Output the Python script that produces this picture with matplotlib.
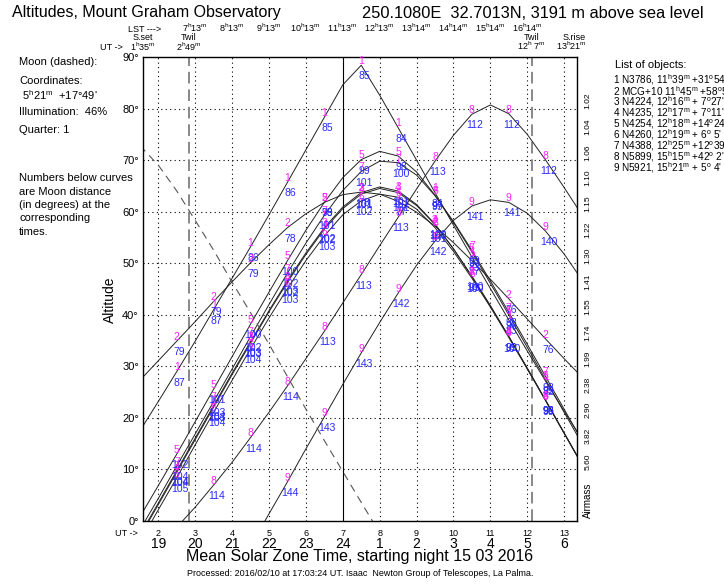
import matplotlib
matplotlib.use('Agg')
import matplotlib.pyplot as plt

plt.rcParams['font.family'] = ['Liberation Sans', 'DejaVu Sans']
plt.rcParams['mathtext.fontset'] = 'custom'
plt.rcParams['mathtext.rm'] = 'Liberation Sans'

W, H = 724, 585

# UT time grid (hours), night of 15 03 2016
ut = [1.5, 2.0, 2.5, 3.0, 3.5, 4.0, 4.5, 5.0, 5.5, 6.0, 6.5, 7.0, 7.5,
      8.0, 8.5, 9.0, 9.5, 10.0, 10.5, 11.0, 11.5, 12.0, 12.5, 13.0, 13.5]

# altitudes (deg)
alt_1 = [17.5, 23.2, 29.0, 34.9, 41.0, 47.1, 53.2, 59.4, 65.7, 72.0, 78.3, 84.6, 88.4,
         82.6, 76.3, 70.0, 63.7, 57.4, 51.2, 45.1, 39.0, 33.0, 27.1, 21.3, 15.7]
alt_2 = [27.3, 31.1, 34.9, 38.7, 42.6, 46.4, 50.1, 53.6, 56.9, 59.6, 61.8, 63.3, 63.8,
         63.4, 62.0, 59.9, 57.2, 54.0, 50.5, 46.9, 43.1, 39.2, 35.3, 31.5, 27.8]
alt_3 = [-2.7, 3.5, 9.8, 16.1, 22.4, 28.7, 34.8, 40.8, 46.6, 52.0, 56.9, 60.9, 63.7,
         64.8, 64.0, 61.4, 57.6, 52.8, 47.5, 41.8, 35.8, 29.7, 23.4, 17.1, 10.8]
alt_4 = [-3.0, 3.2, 9.5, 15.8, 22.1, 28.4, 34.5, 40.6, 46.3, 51.7, 56.6, 60.6, 63.4,
         64.5, 63.7, 61.2, 57.5, 52.8, 47.4, 41.7, 35.8, 29.6, 23.4, 17.1, 10.8]
alt_5 = [0.8, 6.9, 13.0, 19.3, 25.6, 31.9, 38.2, 44.4, 50.5, 56.4, 61.8, 66.6, 70.1,
         71.7, 70.8, 67.7, 63.2, 57.9, 52.2, 46.1, 40.0, 33.7, 27.4, 21.1, 14.8]
alt_6 = [-4.1, 2.2, 8.4, 14.8, 21.1, 27.3, 33.4, 39.4, 45.1, 50.5, 55.3, 59.4, 62.1,
         63.4, 62.8, 60.5, 56.9, 52.3, 47.1, 41.5, 35.6, 29.5, 23.3, 17.0, 10.7]
alt_7 = [-1.7, 4.4, 10.7, 16.9, 23.2, 29.5, 35.8, 42.0, 48.1, 53.9, 59.3, 64.1, 67.8,
         69.8, 69.5, 67.1, 63.1, 58.1, 52.5, 46.6, 40.5, 34.3, 28.0, 21.7, 15.4]
alt_8 = [-7.8, -4.7, -1.2, 2.7, 7.0, 11.4, 16.2, 21.1, 26.2, 31.5, 36.8, 42.3, 47.8,
         53.4, 58.9, 64.4, 69.8, 74.8, 78.9, 80.7, 79.0, 75.0, 70.0, 64.7, 59.2]
alt_9 = [-25.0, -22.0, -19.0, -15.0, -13.0, -11.1, -4.9, 1.4, 7.6, 14.0, 20.2, 26.5, 32.6,
         38.5, 44.2, 49.6, 54.3, 58.3, 61.1, 62.3, 61.8, 59.7, 56.2, 51.8, 46.6]

ut_moon = [1.5, 2.0, 2.5, 3.0, 3.5, 4.0, 4.5, 5.0, 5.5, 6.0, 6.5, 7.0, 7.5, 8.0]
alt_moon = [72.8, 69.0, 64.0, 58.3, 52.5, 46.3, 40.4, 34.3, 28.0, 21.7, 15.6, 9.6, 3.6, -2.3]

# moon distances printed under the curves, at these UT times
label_times = [2.5, 3.5, 4.5, 5.5, 6.5, 7.5, 8.5, 9.5, 10.5, 11.5, 12.5]
dist_1 = [87, 87, 86, 86, 85, 85, 84, 84, 83, 83, 82]
dist_2 = [79, 79, 79, 78, 78, 78, 77, 77, 77, 76, 76]
dist_3 = [104, 104, 103, 103, 102, 101, 101, 100, 100, 99, 98]
dist_4 = [104, 103, 103, 102, 102, 101, 101, 100, 99, 99, 98]
dist_5 = [102, 101, 100, 100, 99, 99, 98, 97, 97, 96, 95]
dist_6 = [105, 104, 104, 103, 103, 102, 101, 101, 100, 100, 99]
dist_7 = [104, 103, 102, 102, 101, 101, 100, 99, 99, 98, 98]
dist_8 = [None, 114, 114, 114, 113, 113, 113, 113, 112, 112, 112]
dist_9 = [None, None, None, 144, 143, 143, 142, 142, 141, 141, 140]

ut_ticks = [2, 3, 4, 5, 6, 7, 8, 9, 10, 11, 12, 13]
local_ticks = [19, 20, 21, 22, 23, 24, 1, 2, 3, 4, 5, 6]
lst_ut = [3, 4, 5, 6, 7, 8, 9, 10, 11, 12]
lst_labels = [('7', '13'), ('8', '13'), ('9', '13'), ('10', '13'), ('11', '13'),
              ('12', '13'), ('13', '14'), ('14', '14'), ('15', '14'), ('16', '14')]
airmass_alt = [80, 75, 70, 65, 60, 55, 50, 45, 40, 35, 30, 25, 20, 15, 10]
airmass_labels = ['1.02', '1.04', '1.06', '1.10', '1.15', '1.22', '1.30', '1.41',
                  '1.55', '1.74', '1.99', '2.38', '2.90', '3.82', '5.60']

objects = ['1 N3786, 11$^{\\mathrm{h}}$39$^{\\mathrm{m}}$ +31$^{\\mathrm{o}}$54\'',
           '2 MCG+10 11$^{\\mathrm{h}}$45$^{\\mathrm{m}}$ +58$^{\\mathrm{o}}$59\'',
           '3 N4224, 12$^{\\mathrm{h}}$16$^{\\mathrm{m}}$ + 7$^{\\mathrm{o}}$27\'',
           '4 N4235, 12$^{\\mathrm{h}}$17$^{\\mathrm{m}}$ + 7$^{\\mathrm{o}}$11\'',
           '5 N4254, 12$^{\\mathrm{h}}$18$^{\\mathrm{m}}$ +14$^{\\mathrm{o}}$24\'',
           '6 N4260, 12$^{\\mathrm{h}}$19$^{\\mathrm{m}}$ + 6$^{\\mathrm{o}}$ 5\'',
           '7 N4388, 12$^{\\mathrm{h}}$25$^{\\mathrm{m}}$ +12$^{\\mathrm{o}}$39\'',
           '8 N5899, 15$^{\\mathrm{h}}$15$^{\\mathrm{m}}$ +42$^{\\mathrm{o}}$ 2\'',
           '9 N5921, 15$^{\\mathrm{h}}$21$^{\\mathrm{m}}$ + 5$^{\\mathrm{o}}$ 4\'']

sunset, twil_eve, twil_morn, sunrise = 1.583, 2.817, 12.117, 13.35


def fx(x):
    return x / W


def fy(y):
    return 1 - y / H


def hm(h, m):
    return h + '$^{\\mathrm{h}}$' + m + '$^{\\mathrm{m}}$'


fig = plt.figure(figsize=(W / 100, H / 100), dpi=100)
ax = fig.add_axes([fx(143), fy(521), fx(577 - 143), (521 - 57) / H])
ax.set_xlim(sunset, sunrise)
ax.set_ylim(0, 90)

for h in ut_ticks:
    if h == 7:
        ax.axvline(h, color='k', lw=0.8)
    else:
        ax.axvline(h, color='k', lw=0.8, ls=(0, (1, 3)))
for a in range(10, 90, 10):
    ax.axhline(a, color='k', lw=0.8, ls=(0, (1, 3)))
for t in (twil_eve, twil_morn):
    ax.axvline(t, color='#888888', lw=1.4, ls=(0, (6, 3)))

alts = [alt_1, alt_2, alt_3, alt_4, alt_5, alt_6, alt_7, alt_8, alt_9]
dists = [dist_1, dist_2, dist_3, dist_4, dist_5, dist_6, dist_7, dist_8, dist_9]
for a in alts:
    ax.plot(ut, a, color='#222222', lw=0.7)
ax.plot(ut_moon, alt_moon, color='#555555', lw=0.8, ls=(0, (7, 5)))

for num, (a, d) in enumerate(zip(alts, dists), start=1):
    for t, dd in zip(label_times, d):
        if dd is None:
            continue
        y = a[ut.index(t)]
        ax.annotate(str(num), (t, y), xytext=(0, 3), textcoords='offset points',
                    ha='center', va='center', fontsize=7.5, color='#ff22ff')
        ax.annotate(str(dd), (t, y), xytext=(2, -8), textcoords='offset points',
                    ha='center', va='center', fontsize=7.5, color='#2a2aff')

ax.set_xticks([])
ax.set_yticks(range(0, 91, 10))
ax.set_yticklabels([f'{v}°' for v in range(0, 91, 10)], fontsize=8)
ax.tick_params(axis='y', length=0, pad=3)
for s in ax.spines.values():
    s.set_linewidth(1.0)

xt = ax.get_xaxis_transform()
yt = ax.get_yaxis_transform()
for h, l in zip(ut_ticks, local_ticks):
    ax.text(h, -0.026, str(h), transform=xt, ha='center', va='center', fontsize=6.5)
    ax.text(h, -0.05, str(l), transform=xt, ha='center', va='center', fontsize=10)
for h, (hh, mm) in zip(lst_ut, lst_labels):
    ax.text(h, 1.062, hm(hh, mm), transform=xt, ha='center', va='center', fontsize=6.5)
for a, lab in zip(airmass_alt, airmass_labels):
    ax.text(1.025, a + 1.5, lab, transform=yt, rotation=90, ha='center', va='center', fontsize=6)
ax.text(1.025, 4, 'Airmass', transform=yt, rotation=90, ha='center', va='center', fontsize=7)

ax.text(sunset, 1.043, 'S.set', transform=xt, ha='center', va='center', fontsize=6.5)
ax.text(twil_eve, 1.043, 'Twil', transform=xt, ha='center', va='center', fontsize=6.5)
ax.text(twil_morn, 1.043, 'Twil', transform=xt, ha='center', va='center', fontsize=6.5)
ax.text(sunrise - 0.08, 1.043, 'S.rise', transform=xt, ha='center', va='center', fontsize=6.5)
ax.text(sunset, 1.022, hm('1', '35'), transform=xt, ha='center', va='center', fontsize=6.5)
ax.text(twil_eve, 1.022, hm('2', '49'), transform=xt, ha='center', va='center', fontsize=6.5)
ax.text(twil_morn, 1.024, hm('12', ' 7'), transform=xt, ha='center', va='center', fontsize=6.5)
ax.text(sunrise - 0.15, 1.024, hm('13', '21'), transform=xt, ha='center', va='center', fontsize=6.5)

fig.text(fx(12), fy(13), 'Altitudes, Mount Graham Observatory', ha='left', va='center', fontsize=11.5)
fig.text(fx(362), fy(13), '250.1080E  32.7013N, 3191 m above sea level', ha='left', va='center', fontsize=11.8)
fig.text(fx(128), fy(29), 'LST --->', ha='left', va='center', fontsize=6.5)
fig.text(fx(100), fy(48), 'UT ->', ha='left', va='center', fontsize=6.5)
fig.text(fx(115), fy(533), 'UT ->', ha='left', va='center', fontsize=6.5)
fig.text(fx(110), fy(300), 'Altitude', rotation=90, ha='center', va='center', fontsize=10)

left_lines = [(62, 'Moon (dashed):'), (81, 'Coordinates:'),
              (95, ' ' + hm('5', '21') + '  +17°49\''), (112, 'Illumination:  46%'),
              (130, 'Quarter: 1'), (178, 'Numbers below curves'), (192, 'are Moon distance'),
              (205, '(in degrees) at the'), (218, 'corresponding'), (232, 'times.')]
for y, s in left_lines:
    fig.text(fx(19), fy(y), s, ha='left', va='center', fontsize=8)

fig.text(fx(615), fy(65), 'List of objects:', ha='left', va='center', fontsize=8)
for i, s in enumerate(objects):
    fig.text(fx(613), fy(80 + 11 * i), s, ha='left', va='center', fontsize=7.2)

fig.text(fx(360), fy(557), 'Mean Solar Zone Time, starting night 15 03 2016',
         ha='center', va='center', fontsize=11.5)
fig.text(fx(360), fy(573), 'Processed: 2016/02/10 at 17:03:24 UT. Isaac  Newton Group of Telescopes, La Palma.',
         ha='center', va='center', fontsize=6.5)

fig.savefig('out.png', dpi=100)
